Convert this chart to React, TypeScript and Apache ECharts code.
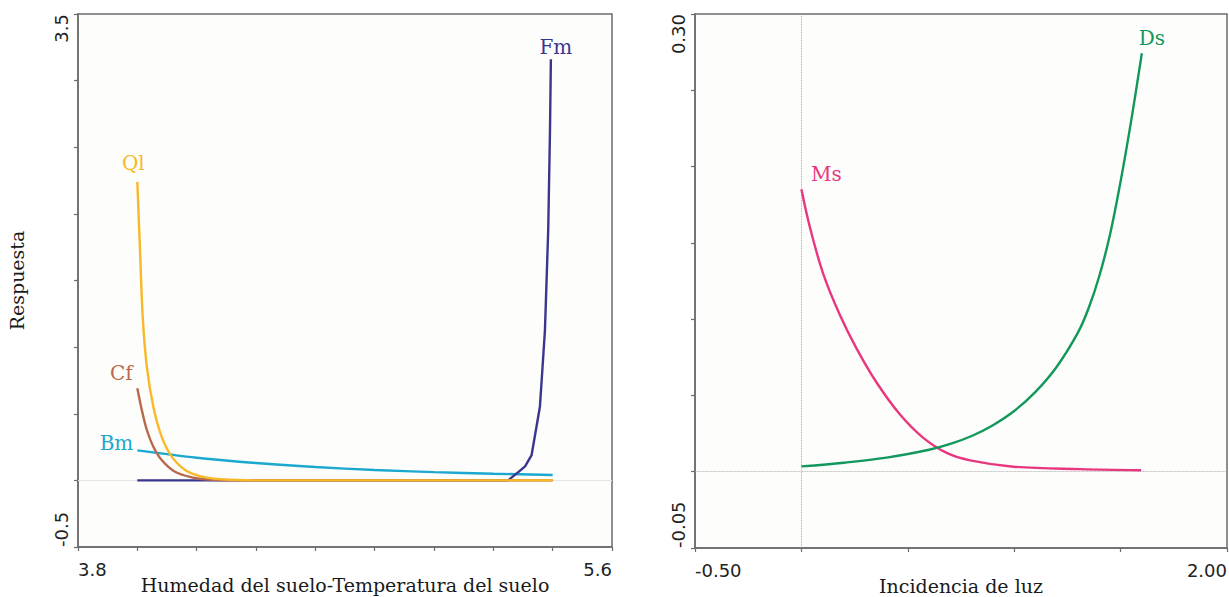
import React, { useEffect, useRef } from "react";
import * as echarts from "echarts";

// ---- Left panel data (x: Humedad del suelo-Temperatura del suelo, y: Respuesta)
const qlX = [4.0, 4.009, 4.018, 4.032, 4.054, 4.082, 4.116, 4.161, 4.217, 4.284, 4.4, 5.4];
const qlY = [2.24, 1.73, 1.23, 0.853, 0.553, 0.328, 0.178, 0.078, 0.028, 0.008, 0.0, 0.0];
const cfX = [4.0, 4.015, 4.032, 4.054, 4.082, 4.127, 4.183, 4.228, 4.3, 5.4];
const cfY = [0.691, 0.528, 0.378, 0.253, 0.153, 0.065, 0.023, 0.008, 0.0, 0.0];
const bmX = [4.0, 4.2, 4.4, 4.6, 4.8, 5.0, 5.2, 5.4];
const bmY = [0.225, 0.17, 0.13, 0.1, 0.078, 0.062, 0.05, 0.04];
const fmX = [4.0, 5.25, 5.284, 5.307, 5.329, 5.357, 5.363, 5.374, 5.385, 5.391, 5.394];
const fmY = [0.0, 0.0, 0.062, 0.105, 0.19, 0.553, 0.753, 1.128, 1.879, 2.629, 3.16];

// ---- Right panel data (x: Incidencia de luz)
const msX = [0, 0.0405, 0.103, 0.1815, 0.26, 0.354, 0.4635, 0.573, 0.683, 0.7925, 0.996, 1.31, 1.596];
const msY = [0.1852, 0.16, 0.1295, 0.1025, 0.0805, 0.0583, 0.0375, 0.0222, 0.0123, 0.0074, 0.0033, 0.0017, 0.001];
const dsX = [0, 0.2, 0.4, 0.6, 0.7, 0.8, 0.9, 1.0, 1.1, 1.2, 1.3, 1.35, 1.4, 1.45, 1.5, 1.55, 1.6];
const dsY = [0.0035, 0.0059, 0.0092, 0.0144, 0.0182, 0.0234, 0.0305, 0.0398, 0.0523, 0.0688, 0.0913, 0.1073, 0.1283, 0.1553, 0.1903, 0.2303, 0.2743];

// ---- Axis ranges / tick labels
const leftXRange = [3.8, 5.6];
const leftYRange = [-0.5, 3.5];
const rightXRange = [-0.5, 2.0];
const rightYRange = [-0.05, 0.3];

const COLORS = {
  Ql: "#f8b928",
  Cf: "#b8694c",
  Bm: "#1aa8cf",
  Fm: "#3a368e",
  Ms: "#e8377f",
  Ds: "#11985a",
};

const serif = "'DejaVu Serif', serif";
const sans = "'DejaVu Sans', sans-serif";

function zip(xs: number[], ys: number[]) {
  return xs.map((x, i) => [x, ys[i]]);
}

function labelled(
  pts: number[][],
  idx: number,
  name: string,
  color: string,
  position: any,
  offset: number[]
) {
  return pts.map((p, i) =>
    i === idx
      ? {
          value: p,
          label: {
            show: true,
            formatter: name,
            position,
            offset,
            color,
            fontFamily: serif,
            fontSize: 20,
          },
        }
      : { value: p }
  );
}

function endsFormatter(min: number, max: number, digits: number) {
  return (v: number) =>
    Math.abs(v - min) < 1e-7 || Math.abs(v - max) < 1e-7 ? v.toFixed(digits) : "";
}

export default function App() {
  const ref = useRef<HTMLDivElement>(null);
  useEffect(() => {
    document.body.style.margin = "0";
    if (!ref.current) return;
    const chart = echarts.init(ref.current, undefined, { renderer: "svg" });

    const axisLine = { show: true, onZero: false, lineStyle: { color: "#6b6b6b", width: 1.5 } };
    const axisTick = { show: true, length: 4, lineStyle: { color: "#6b6b6b", width: 1.2 } };
    const xLabel = (min: number, max: number, digits: number) => ({
      show: true,
      color: "#222",
      fontFamily: sans,
      fontSize: 18,
      margin: 13,
      alignMinLabel: "left",
      alignMaxLabel: "right",
      showMinLabel: true,
      showMaxLabel: true,
      hideOverlap: false,
      formatter: endsFormatter(min, max, digits),
    });
    const yLabel = (min: number, max: number, digits: number) => ({
      show: true,
      color: "#222",
      fontFamily: sans,
      fontSize: 18,
      margin: 8,
      rotate: 90,
      alignMinLabel: "left",
      alignMaxLabel: "right",
      showMinLabel: true,
      showMaxLabel: true,
      hideOverlap: false,
      formatter: endsFormatter(min, max, digits),
    });

    const lineBase = {
      type: "line",
      showSymbol: true,
      symbol: "circle",
      symbolSize: 0,
      lineStyle: { width: 2.4 },
      emphasis: { disabled: true },
      z: 3,
    };

    const gridBase = {
      show: true,
      borderColor: "#6b6b6b",
      borderWidth: 1.5,
      backgroundColor: "#fdfdfb",
      containLabel: false,
      outerBoundsMode: "none",
    };

    const nameStyle = { fontFamily: serif, fontSize: 19, color: "#1a1a1a" };

    chart.setOption({
      animation: false,
      backgroundColor: "#ffffff",
      grid: [
        { ...gridBase, left: 78, top: 14, width: 534, height: 533 },
        { ...gridBase, left: 695, top: 14, width: 532, height: 534 },
      ],
      xAxis: [
        {
          gridIndex: 0,
          type: "value",
          min: leftXRange[0],
          max: leftXRange[1],
          interval: 0.2,
          axisLine,
          axisTick,
          splitLine: { show: false },
          axisLabel: xLabel(leftXRange[0], leftXRange[1], 1),
          name: "Humedad del suelo-Temperatura del suelo",
          nameLocation: "middle",
          nameGap: 28,
          nameMoveOverlap: false,
          nameTextStyle: nameStyle,
        },
        {
          gridIndex: 1,
          type: "value",
          min: rightXRange[0],
          max: rightXRange[1],
          interval: 0.5,
          axisLine,
          axisTick,
          splitLine: { show: false },
          axisLabel: xLabel(rightXRange[0], rightXRange[1], 2),
          name: "Incidencia de luz",
          nameLocation: "middle",
          nameGap: 28,
          nameMoveOverlap: false,
          nameTextStyle: nameStyle,
        },
      ],
      yAxis: [
        {
          gridIndex: 0,
          type: "value",
          min: leftYRange[0],
          max: leftYRange[1],
          interval: 0.5,
          axisLine,
          axisTick,
          splitLine: { show: false },
          axisLabel: yLabel(leftYRange[0], leftYRange[1], 1),
          name: "Respuesta",
          nameLocation: "middle",
          nameGap: 52,
          nameMoveOverlap: false,
          nameTextStyle: nameStyle,
        },
        {
          gridIndex: 1,
          type: "value",
          min: rightYRange[0],
          max: rightYRange[1],
          interval: 0.05,
          axisLine,
          axisTick,
          splitLine: { show: false },
          axisLabel: yLabel(rightYRange[0], rightYRange[1], 2),
        },
      ],
      series: [
        {
          ...lineBase,
          name: "Bm",
          xAxisIndex: 0,
          yAxisIndex: 0,
          color: COLORS.Bm,
          smooth: 0.3,
          data: labelled(zip(bmX, bmY), 0, "Bm", COLORS.Bm, "left", [1, -7]),
          markLine: {
            silent: true,
            symbol: "none",
            label: { show: false },
            lineStyle: { color: "#e4e4e4", type: "solid", width: 1 },
            data: [{ yAxis: 0 }],
            z: 1,
          },
        },
        {
          ...lineBase,
          name: "Fm",
          xAxisIndex: 0,
          yAxisIndex: 0,
          color: COLORS.Fm,
          data: labelled(zip(fmX, fmY), fmX.length - 1, "Fm", COLORS.Fm, "top", [5, 3]),
        },
        {
          ...lineBase,
          name: "Cf",
          xAxisIndex: 0,
          yAxisIndex: 0,
          color: COLORS.Cf,
          smooth: 0.3,
          data: labelled(zip(cfX, cfY), 0, "Cf", COLORS.Cf, "top", [-16, 0]),
        },
        {
          ...lineBase,
          name: "Ql",
          xAxisIndex: 0,
          yAxisIndex: 0,
          color: COLORS.Ql,
          smooth: 0.3,
          data: labelled(zip(qlX, qlY), 0, "Ql", COLORS.Ql, "top", [-4, -4]),
        },
        {
          ...lineBase,
          name: "Ms",
          xAxisIndex: 1,
          yAxisIndex: 1,
          color: COLORS.Ms,
          smooth: 0.35,
          data: labelled(zip(msX, msY), 0, "Ms", COLORS.Ms, "top", [25, 0]),
          markLine: {
            silent: true,
            symbol: "none",
            label: { show: false },
            lineStyle: { color: "#9a9a9a", type: "dotted", width: 0.8 },
            data: [{ yAxis: 0 }, { xAxis: 0 }],
            z: 1,
          },
        },
        {
          ...lineBase,
          name: "Ds",
          xAxisIndex: 1,
          yAxisIndex: 1,
          color: COLORS.Ds,
          smooth: 0.35,
          data: labelled(zip(dsX, dsY), dsX.length - 1, "Ds", COLORS.Ds, "top", [10, 0]),
        },
      ],
    });

    return () => chart.dispose();
  }, []);

  return <div ref={ref} style={{ width: 1229, height: 597 }} />;
}
